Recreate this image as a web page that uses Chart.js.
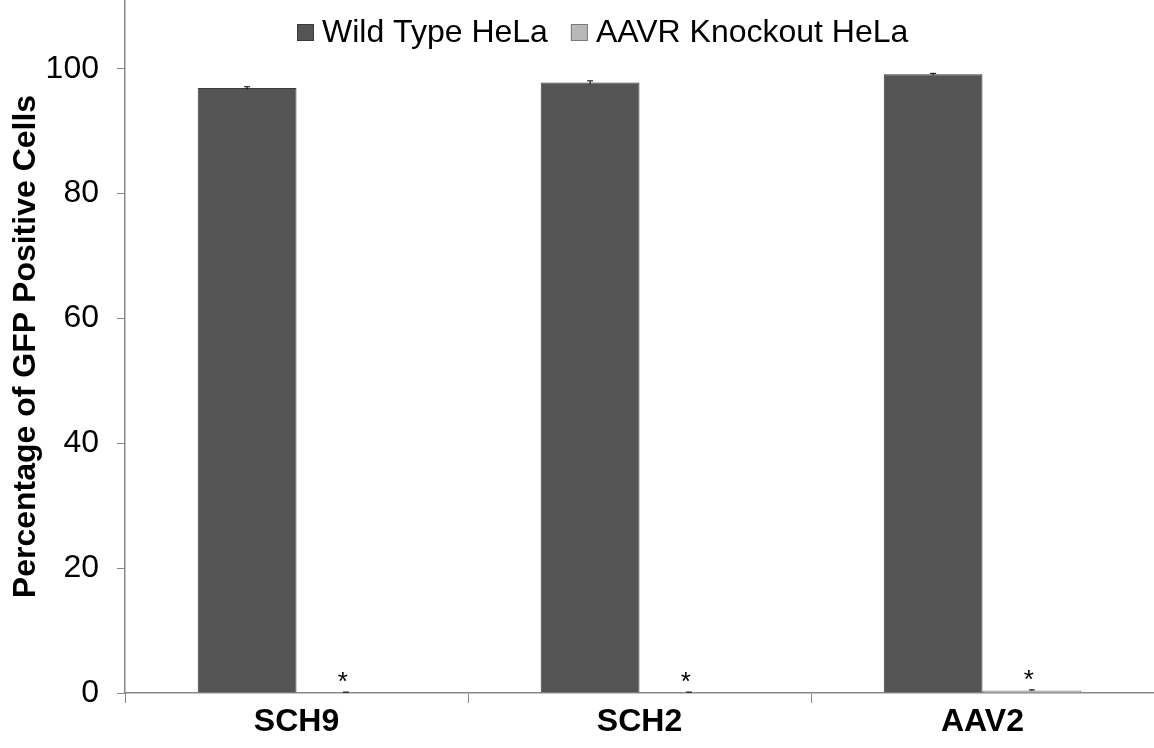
<!DOCTYPE html>
<html>
<head>
<meta charset="utf-8">
<script src="https://cdn.jsdelivr.net/npm/chart.js@4.4.0/dist/chart.umd.min.js"></script>
<style>
  html, body { margin: 0; padding: 0; background: #fff; }
  #wrap { width: 1154px; height: 748px; }
</style>
</head>
<body>
<div id="wrap"><canvas id="gfpChart" width="1154" height="748"></canvas></div>
<script>
// data
var categories = ['SCH9', 'SCH2', 'AAV2'];
var wildType = [96.9, 97.8, 99.1];
var wildTypeErr = [0.2, 0.25, 0.15];
var knockout = [0.1, 0.1, 0.4];
var knockoutErr = [0.05, 0.05, 0.1];
var knockoutMarks = ['*', '*', '*'];
var yTicks = [0, 20, 40, 60, 80, 100];

var FONT = '"Liberation Sans", Arial, sans-serif';

// error bars + asterisks drawn with the chart's own scales
var extras = {
    id: 'extras',
    afterDatasetsDraw: function(chart) {
        var ctx = chart.ctx;
        var y = chart.scales.y;
        var errs = [wildTypeErr, knockoutErr];
        ctx.save();
        for (var d = 0; d < 2; d++) {
            var meta = chart.getDatasetMeta(d);
            var vals = chart.data.datasets[d].data;
            meta.data.forEach(function(bar, i) {
                var top = y.getPixelForValue(vals[i] + errs[d][i]);
                var bot = y.getPixelForValue(vals[i] - errs[d][i]);
                ctx.strokeStyle = '#000';
                ctx.lineWidth = 1;
                ctx.beginPath();
                ctx.moveTo(bar.x, top); ctx.lineTo(bar.x, bot);
                ctx.moveTo(bar.x - 3, top); ctx.lineTo(bar.x + 3, top);
                ctx.stroke();
            });
        }
        var koMeta = chart.getDatasetMeta(1);
        ctx.fillStyle = '#000';
        ctx.font = '26px ' + FONT;
        ctx.textAlign = 'center';
        ctx.textBaseline = 'top';
        koMeta.data.forEach(function(bar, i) {
            ctx.fillText(knockoutMarks[i], bar.x - 3, y.getPixelForValue(knockout[i] + knockoutErr[i]) - 22);
        });
        ctx.restore();
    }
};

// legend drawn inside the plot area, over the axis like the original
var insideLegend = {
    id: 'insideLegend',
    afterDraw: function(chart) {
        var ctx = chart.ctx;
        var x = 297, yMid = 32.5, box = 17;
        ctx.save();
        ctx.font = '32px ' + FONT;
        ctx.textBaseline = 'middle';
        ctx.textAlign = 'left';
        chart.data.datasets.forEach(function(ds) {
            ctx.fillStyle = ds.backgroundColor;
            ctx.fillRect(x, yMid - box / 2, box, box);
            ctx.strokeStyle = ds.borderColor;
            ctx.lineWidth = 1;
            ctx.strokeRect(x + 0.5, yMid - box / 2 + 0.5, box - 1, box - 1);
            x += box + 8;
            ctx.fillStyle = '#000';
            ctx.fillText(ds.label, x, yMid + 1);
            x += ctx.measureText(ds.label).width + 23;
        });
        ctx.restore();
    }
};

var ctx = document.getElementById('gfpChart').getContext('2d');
var chart = new Chart(ctx, {
    type: 'bar',
    data: {
        labels: categories,
        datasets: [{
            label: 'Wild Type HeLa',
            data: wildType,
            backgroundColor: '#545454',
            borderColor: '#3a3a3a',
            borderWidth: 1
        }, {
            label: 'AAVR Knockout HeLa',
            data: knockout,
            backgroundColor: '#b8b8b8',
            borderColor: '#7a7a7a',
            borderWidth: 1
        }]
    },
    options: {
        responsive: false,
        animation: false,
        layout: { padding: 0 },
        datasets: {
            bar: { categoryPercentage: 0.576, barPercentage: 1 }
        },
        plugins: {
            legend: { display: false },
            tooltip: { enabled: false }
        },
        scales: {
            x: {
                grid: {
                    offset: true,
                    drawOnChartArea: false,
                    color: '#888',
                    tickLength: 10
                },
                border: { color: '#888', width: 1.5 },
                ticks: {
                    color: '#000',
                    padding: 0,
                    font: { family: FONT, size: 32, weight: 'bold' }
                },
                afterFit: function(scale) {
                    scale.height = 55;
                    scale.paddingLeft = 0;
                    scale.paddingRight = 0;
                }
            },
            y: {
                min: 0,
                max: 111,
                afterBuildTicks: function(scale) {
                    scale.ticks = yTicks.map(function(v) { return { value: v }; });
                },
                grid: {
                    drawOnChartArea: false,
                    color: '#888',
                    tickLength: 8
                },
                border: { color: '#888', width: 1.5 },
                ticks: {
                    color: '#000',
                    padding: 18,
                    font: { family: FONT, size: 32 }
                },
                title: {
                    display: true,
                    text: 'Percentage of GFP Positive Cells',
                    color: '#000',
                    padding: { top: 7, bottom: 0 },
                    font: { family: FONT, size: 32, weight: 'bold' }
                },
                afterFit: function(scale) {
                    scale.width = 125;
                    scale.paddingTop = 0;
                    scale.paddingBottom = 0;
                }
            }
        }
    },
    plugins: [extras, insideLegend]
});
</script>
</body>
</html>
